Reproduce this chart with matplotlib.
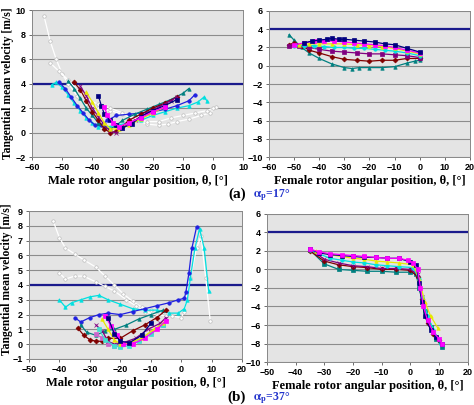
import matplotlib
matplotlib.use("Agg")
import matplotlib.pyplot as plt

plt.rcParams['mathtext.fontset'] = 'stix'

# colours of the Excel-style series
NAVY, MAGENTA, YELLOW, CYAN = '#000080', '#ff00ff', '#e8e800', '#00e0e0'
PURPLE, DRED, TEAL, BLUE, WHITE = '#800080', '#800000', '#008080', '#2020e0', '#ffffff'
LCYAN, PINK = '#40e0d0', '#cc66cc'

# ---- (a) male rotor, alpha_p = 17 deg ----
a_male = [
    (WHITE, 'o', [-56, -54, -52, -50, -48, -45, -42, -38, -34, -30, -25, -22, -18, -15, -12, -8, -4, -1, 1],
     [9.5, 7.5, 6.0, 4.8, 4.0, 3.0, 2.3, 2.0, 1.8, 1.5, 1.0, 0.7, 0.6, 0.7, 0.9, 1.1, 1.4, 1.6, 2.1]),
    (WHITE, 'o', [-54, -51, -48, -45, -42, -38, -34, -30, -26, -22, -18, -14, -10, -6, -2, 0],
     [5.7, 5.0, 4.3, 3.5, 2.8, 2.3, 2.0, 1.6, 1.2, 0.9, 0.9, 1.2, 1.4, 1.6, 1.8, 2.0]),
    (CYAN, '^', [-53.5, -52, -50, -48, -46, -44, -42, -40, -38, -36, -34, -32, -28, -24, -20, -16, -12, -8, -5, -3, -2],
     [3.9, 4.1, 3.7, 3.1, 2.4, 1.8, 1.2, 0.8, 0.5, 0.5, 0.5, 0.6, 0.8, 1.0, 1.4, 1.7, 2.0, 2.2, 2.5, 2.9, 2.6]),
    (BLUE, 'o', [-51, -49, -47, -45, -43, -41, -39, -37, -35, -32, -28, -24, -20, -16, -12, -8, -6],
     [4.1, 3.6, 2.9, 2.2, 1.6, 1.0, 0.6, 0.6, 1.0, 1.4, 1.5, 1.6, 1.7, 1.9, 2.2, 2.6, 3.1]),
    (TEAL, '^', [-48, -46, -44, -42, -40, -38, -36, -34, -32, -30, -26, -22, -18, -14, -10, -8],
     [4.2, 3.6, 2.8, 2.0, 1.4, 0.8, 0.4, 0.3, 0.6, 1.0, 1.5, 1.9, 2.3, 2.7, 3.2, 3.6]),
    (DRED, 'D', [-46, -44, -42, -40, -38, -36, -34, -32, -30, -28, -24, -20, -16, -12],
     [4.1, 3.5, 2.6, 1.7, 1.0, 0.3, 0.0, 0.1, 0.5, 1.0, 1.5, 2.0, 2.4, 2.9]),
    (PURPLE, 'x', [-44, -42, -40, -38, -36, -34, -32, -30, -26, -22, -18, -14, -12],
     [3.8, 3.0, 2.0, 1.3, 0.6, 0.1, 0.0, 0.4, 1.0, 1.6, 2.1, 2.6, 2.9]),
    (YELLOW, '^', [-42, -40, -38, -36, -34, -31, -28, -24, -20, -16],
     [3.3, 2.5, 1.6, 0.8, 0.3, 0.3, 0.6, 1.1, 1.6, 2.1]),
    (NAVY, 's', [-38, -37, -36, -34, -32, -30, -27, -24, -20, -16, -12],
     [3.0, 2.2, 1.5, 1.0, 0.6, 0.4, 0.7, 1.3, 1.8, 2.2, 2.7]),
    (MAGENTA, 's', [-36, -35, -33, -31, -28, -24, -20, -16],
     [2.1, 1.4, 0.8, 0.5, 0.8, 1.2, 1.7, 2.1]),
]

# ---- (a) female rotor, alpha_p = 17 deg ----
a_female = [
    (TEAL, '^', [-52, -50, -47, -44, -40, -35, -30, -27, -24, -20, -15, -10, -5, -2, 0],
     [3.4, 2.8, 2.0, 1.4, 0.8, 0.2, -0.2, -0.3, -0.2, -0.2, -0.2, -0.1, 0.3, 0.5, 0.6]),
    (DRED, 'D', [-52, -50, -47, -44, -40, -35, -30, -25, -20, -15, -10, -5, 0],
     [2.3, 2.5, 2.2, 1.7, 1.4, 1.0, 0.7, 0.6, 0.5, 0.6, 0.6, 0.8, 0.8]),
    (PURPLE, 's', [-52, -48, -44, -40, -35, -30, -25, -20, -15, -10, -5, 0],
     [2.2, 2.2, 2.0, 1.8, 1.6, 1.5, 1.4, 1.3, 1.3, 1.2, 1.1, 0.9]),
    (CYAN, 'o', [-50, -46, -42, -38, -34, -30, -26, -22, -18, -14, -10, -5, 0],
     [2.2, 2.2, 2.2, 2.1, 2.0, 2.0, 1.9, 1.9, 1.8, 1.7, 1.6, 1.4, 1.1]),
    (YELLOW, '^', [-48, -44, -40, -35, -30, -25, -20, -15, -10, -5, 0],
     [2.3, 2.4, 2.4, 2.4, 2.4, 2.3, 2.2, 2.1, 1.9, 1.6, 1.3]),
    (MAGENTA, 's', [-50, -46, -42, -38, -34, -30, -26, -22, -18, -14, -10, -5, 0],
     [2.3, 2.5, 2.7, 2.7, 2.7, 2.6, 2.5, 2.4, 2.3, 2.2, 2.0, 1.7, 1.4]),
    (NAVY, 's', [-46, -43, -40, -37, -35, -32, -30, -26, -22, -18, -14, -10, -5, 0],
     [2.5, 2.7, 2.8, 2.9, 3.0, 2.9, 2.9, 2.8, 2.7, 2.6, 2.4, 2.3, 1.9, 1.5]),
]

# ---- (b) male rotor, alpha_p = 37 deg ----
b_male = [
    (WHITE, 'o', [-42, -40, -38, -35, -32, -28, -25, -22, -19, -16, -13, -10, -6, -3, 0, 1, 3, 5, 6.5, 8, 9.5],
     [8.3, 7.2, 6.5, 6.1, 5.7, 5.2, 4.6, 4.0, 3.4, 2.9, 2.5, 2.3, 2.2, 1.9, 1.8, 2.2, 4.5, 6.5, 7.3, 4.5, 1.6]),
    (WHITE, 'o', [-40, -38, -35, -32, -28, -25, -22, -18, -15, -12, -8, -5],
     [4.8, 4.4, 4.6, 4.6, 4.2, 3.9, 3.6, 3.0, 2.6, 2.2, 2.0, 1.9]),
    (CYAN, '^', [-40, -38, -36, -33, -30, -27, -24, -20, -16, -12, -8, -4, -1, 1, 2, 3, 4.5, 6, 7.5, 9],
     [3.0, 2.5, 2.8, 3.0, 3.2, 3.3, 3.0, 2.7, 2.4, 2.3, 2.3, 2.1, 2.1, 2.4, 3.0, 4.5, 6.5, 7.8, 6.5, 3.6]),
    (BLUE, 'o', [-35, -33, -30, -27, -24, -20, -16, -12, -8, -4, -1, 1, 1.5, 2.5, 3.5, 5],
     [1.8, 1.5, 1.8, 2.0, 2.1, 2.0, 2.2, 2.4, 2.6, 2.8, 3.0, 3.1, 3.5, 4.8, 6.5, 7.9]),
    (TEAL, '^', [-33, -31, -28, -25, -22, -18, -14, -10, -6],
     [1.3, 0.8, 0.6, 0.9, 1.0, 1.3, 1.7, 2.0, 2.3]),
    (DRED, 'D', [-34, -32, -30, -28, -26, -24, -20, -16, -12, -8, -5],
     [1.1, 0.6, 0.3, 0.2, 0.2, 0.4, 0.4, 0.9, 1.3, 1.8, 2.3]),
    (PINK, 's', [-28, -26, -24, -22, -20, -17, -14, -10, -6],
     [0.7, 0.4, 0.0, -0.1, -0.1, 0.0, 0.3, 0.8, 1.3]),
    (PURPLE, 'x', [-28, -26, -24, -22, -19, -15, -11, -7, -5],
     [1.3, 0.9, 0.2, 0.0, 0.1, 0.4, 1.0, 1.4, 1.8]),
    (LCYAN, 's', [-27, -25, -22, -20, -17, -14, -10, -6],
     [1.0, 0.3, -0.1, -0.2, -0.1, 0.2, 0.7, 1.3]),
    (YELLOW, '^', [-26, -24, -22, -20, -17, -13, -9, -6],
     [1.7, 1.0, 0.3, 0.0, 0.1, 0.4, 1.0, 1.4]),
    (MAGENTA, 's', [-25, -23, -21, -19, -16, -12, -8, -5],
     [1.9, 1.2, 0.6, 0.0, 0.0, 0.4, 1.0, 1.6]),
    (NAVY, 's', [-24, -22, -20, -17, -13, -10],
     [1.8, 0.7, 0.2, 0.1, 0.6, 1.4]),
]

# ---- (b) female rotor, alpha_p = 37 deg ----
b_female = [
    (TEAL, 's', [-35, -30, -25, -20, -15, -10, -5, 0, 2, 3, 5, 7, 9, 11],
     [2.1, 0.6, 0.0, -0.1, -0.2, -0.2, -0.3, -0.3, -0.5, -2.0, -4.5, -6.2, -7.5, -8.4]),
    (DRED, 'D', [-35, -30, -25, -20, -15, -10, -5, 0, 2.5, 4, 6, 8, 10],
     [2.0, 0.9, 0.5, 0.3, 0.2, 0.0, 0.0, -0.1, -0.8, -3.2, -5.8, -7.0, -7.6]),
    (PURPLE, 'x', [-35, -30, -25, -20, -15, -10, -5, 0, 2.5, 4, 6, 8, 10],
     [2.2, 1.1, 0.7, 0.4, 0.3, 0.1, 0.1, 0.0, -0.5, -3.0, -5.5, -6.8, -7.5]),
    (CYAN, 'o', [-35, -28, -24, -20, -16, -12, -8, -4, 1, 3, 4, 6, 8, 10.5],
     [2.1, 1.2, 1.0, 0.8, 0.7, 0.5, 0.4, 0.3, 0.2, -1.0, -3.0, -5.0, -6.5, -8.0]),
    (YELLOW, '^', [-33, -28, -24, -20, -16, -12, -8, -4, 1, 3, 5, 7, 9.5],
     [2.0, 1.6, 1.4, 1.2, 1.1, 0.9, 0.8, 0.7, 0.5, -1.0, -3.5, -5.0, -6.3]),
    (NAVY, 's', [-35, -32, -28, -24, -20, -16, -12, -8, -4, 0, 2, 3, 4, 5, 7, 9, 11],
     [2.2, 1.8, 1.6, 1.5, 1.4, 1.3, 1.3, 1.2, 1.2, 0.8, 0.5, -1.5, -3.5, -5.0, -6.5, -7.3, -8.1]),
    (MAGENTA, 's', [-35, -32, -28, -24, -20, -16, -12, -8, -4, -1, 1, 2.5, 3.5, 4.5, 6, 8, 10, 11],
     [2.2, 1.9, 1.7, 1.6, 1.5, 1.4, 1.3, 1.2, 1.2, 1.0, 0.7, 0.0, -2.0, -4.0, -5.5, -6.8, -7.5, -8.0]),
]

tick_font = dict(family='Liberation Sans', size=6.5, weight='bold')
label_font = dict(family='Liberation Serif', size=9, weight='bold')


def draw_panel(ax, series, xlim, ylim, ystep, xlabel):
    ax.set_facecolor('#e4e4e4')
    for yv in range(ylim[0], ylim[1] + 1, ystep):
        ax.axhline(yv, color='#8c8c8c', lw=0.8, zorder=1)
    ax.axhline(4, color='#1a1a8c', lw=1.6, zorder=2)
    for color, mk, xs, ys in series:
        mec = '#bbbbbb' if color == WHITE else color
        ax.plot(xs, ys, color=color, lw=0.9, marker=mk, ms=2.5,
                mfc=color, mec=mec, mew=0.5, zorder=3)
    ax.set_xlim(*xlim)
    ax.set_ylim(*ylim)
    ax.set_xticks(range(xlim[0], xlim[1] + 1, 10))
    ax.set_yticks(range(ylim[0], ylim[1] + 1, ystep))
    for lab in ax.get_xticklabels() + ax.get_yticklabels():
        lab.set_fontproperties(tick_font)
    ax.tick_params(length=2.5, width=0.6, color='#555555', pad=2)
    for s in ax.spines.values():
        s.set_color('#888888')
        s.set_linewidth(0.7)
    ax.set_xlabel(xlabel, fontdict=label_font, labelpad=2)


fig = plt.figure(figsize=(4.74, 4.05), dpi=100)
ax1 = fig.add_axes([0.0675, 0.612, 0.4455, 0.363])
ax2 = fig.add_axes([0.5675, 0.612, 0.424, 0.361])
ax3 = fig.add_axes([0.061, 0.1136, 0.450, 0.3654])
ax4 = fig.add_axes([0.563, 0.106, 0.424, 0.366])

draw_panel(ax1, a_male, (-60, 10), (-2, 10), 2, 'Male rotor angular position, θ, [°]')
draw_panel(ax2, a_female, (-60, 20), (-10, 6), 2, 'Female rotor angular position, θ, [°]')
draw_panel(ax3, b_male, (-50, 20), (-1, 9), 1, 'Male rotor angular position, θ, [°]')
draw_panel(ax4, b_female, (-50, 20), (-10, 6), 2, 'Female rotor angular position, θ, [°]')

ylab = 'Tangential mean velocity [m/s]'
fig.text(0.017, 0.795, ylab, family='Liberation Serif', weight='bold', size=8.4,
         rotation=90, ha='center', va='center')
fig.text(0.015, 0.31, ylab, family='Liberation Serif', weight='bold', size=8.4,
         rotation=90, ha='center', va='center')

fig.text(0.500, 0.520, '(a)', family='Liberation Serif', weight='bold', size=11,
         ha='center', va='center')
fig.text(0.533, 0.517, r'$\mathbf{\alpha_p}$=17°', family='Liberation Serif', weight='bold',
         size=8.5, color='#2233cc', ha='left', va='center')
fig.text(0.500, 0.020, '(b)', family='Liberation Serif', weight='bold', size=11,
         ha='center', va='center')
fig.text(0.533, 0.017, r'$\mathbf{\alpha_p}$=37°', family='Liberation Serif', weight='bold',
         size=8.5, color='#2233cc', ha='left', va='center')

fig.savefig('out.png', dpi=100)
